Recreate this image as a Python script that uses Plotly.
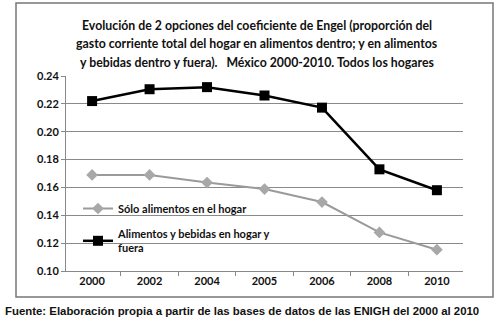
import plotly.graph_objects as go

years = ["2000", "2002", "2004", "2005", "2006", "2008", "2010"]
solo_hogar = [0.169, 0.169, 0.1635, 0.1588, 0.1495, 0.1277, 0.1153]
hogar_fuera = [0.222, 0.2305, 0.232, 0.226, 0.2173, 0.173, 0.158]
y_ticks = [0.10, 0.12, 0.14, 0.16, 0.18, 0.20, 0.22, 0.24]

title_lines = ["Evolución de 2 opciones del coeficiente de Engel (proporción del",
               "gasto corriente total del hogar en alimentos dentro; y en alimentos",
               "y bebidas dentro y fuera).   México 2000-2010. Todos los hogares"]
source_text = "Fuente: Elaboración propia a partir de las bases de datos de las ENIGH del 2000 al 2010"

W, H = 500, 323
L, R, T, B = 66, 37, 76, 52
pw, ph = W - L - R, H - T - B

def px(x):
    return (x - L) / pw

def py(y):
    return (H - B - y) / ph

fig = go.Figure()
fig.add_trace(go.Scatter(
    x=years, y=solo_hogar, mode="lines+markers", name="Sólo alimentos en el hogar",
    line=dict(color="#9a9a9a", width=2),
    marker=dict(symbol="diamond", size=9, color="#a8a8a8"),
    legendgroup="a"))
fig.add_trace(go.Scatter(
    x=years, y=hogar_fuera, mode="lines+markers", name="Alimentos y bebidas en hogar y<br>fuera",
    line=dict(color="#000000", width=2.5),
    marker=dict(symbol="square", size=10, color="#000000"),
    legendgroup="b"))

annotations = []
for i, line in enumerate(title_lines):
    annotations.append(dict(text=line, xref="paper", yref="paper", x=px(257), y=py(25 + 18.5 * i),
                            xanchor="center", yanchor="middle", showarrow=False,
                            font=dict(family="Lato", size=12.3, color="#111", weight="bold")))
annotations.append(dict(text=source_text, xref="paper", yref="paper", x=px(3), y=py(311),
                        xanchor="left", yanchor="middle", showarrow=False,
                        font=dict(family="Liberation Sans", size=11.4, color="#111", weight="bold")))

fig.update_layout(
    width=W, height=H,
    margin=dict(l=L, r=R, t=T, b=B),
    paper_bgcolor="white", plot_bgcolor="white",
    font=dict(family="Lato", size=11, color="#111111"),
    showlegend=True,
    legend=dict(x=px(78), y=py(194), xanchor="left", yanchor="top",
                bgcolor="rgba(0,0,0,0)",
                font=dict(family="Lato", size=11, color="#111", weight="bold"),
                tracegroupgap=7, itemwidth=30),
    xaxis=dict(type="category", showgrid=False, showline=True, linecolor="#888888",
               ticks="outside", tickson="boundaries", ticklen=4, tickcolor="#888888",
               tickfont=dict(family="Lato", size=11, color="#111", weight="bold")),
    yaxis=dict(range=[0.10, 0.24], tickvals=y_ticks, tickformat=".2f",
               showgrid=True, gridcolor="#8a8a8a", gridwidth=1,
               showline=True, linecolor="#888888", ticks="outside", ticklen=4,
               tickcolor="#888888", zeroline=False,
               tickfont=dict(family="Lato", size=11, color="#111", weight="bold")),
    shapes=[dict(type="rect", xref="paper", yref="paper",
                 x0=px(16), x1=px(493), y0=py(297), y1=py(3),
                 line=dict(color="#777777", width=1.5))],
    annotations=annotations,
)

fig.write_html("out.html")
